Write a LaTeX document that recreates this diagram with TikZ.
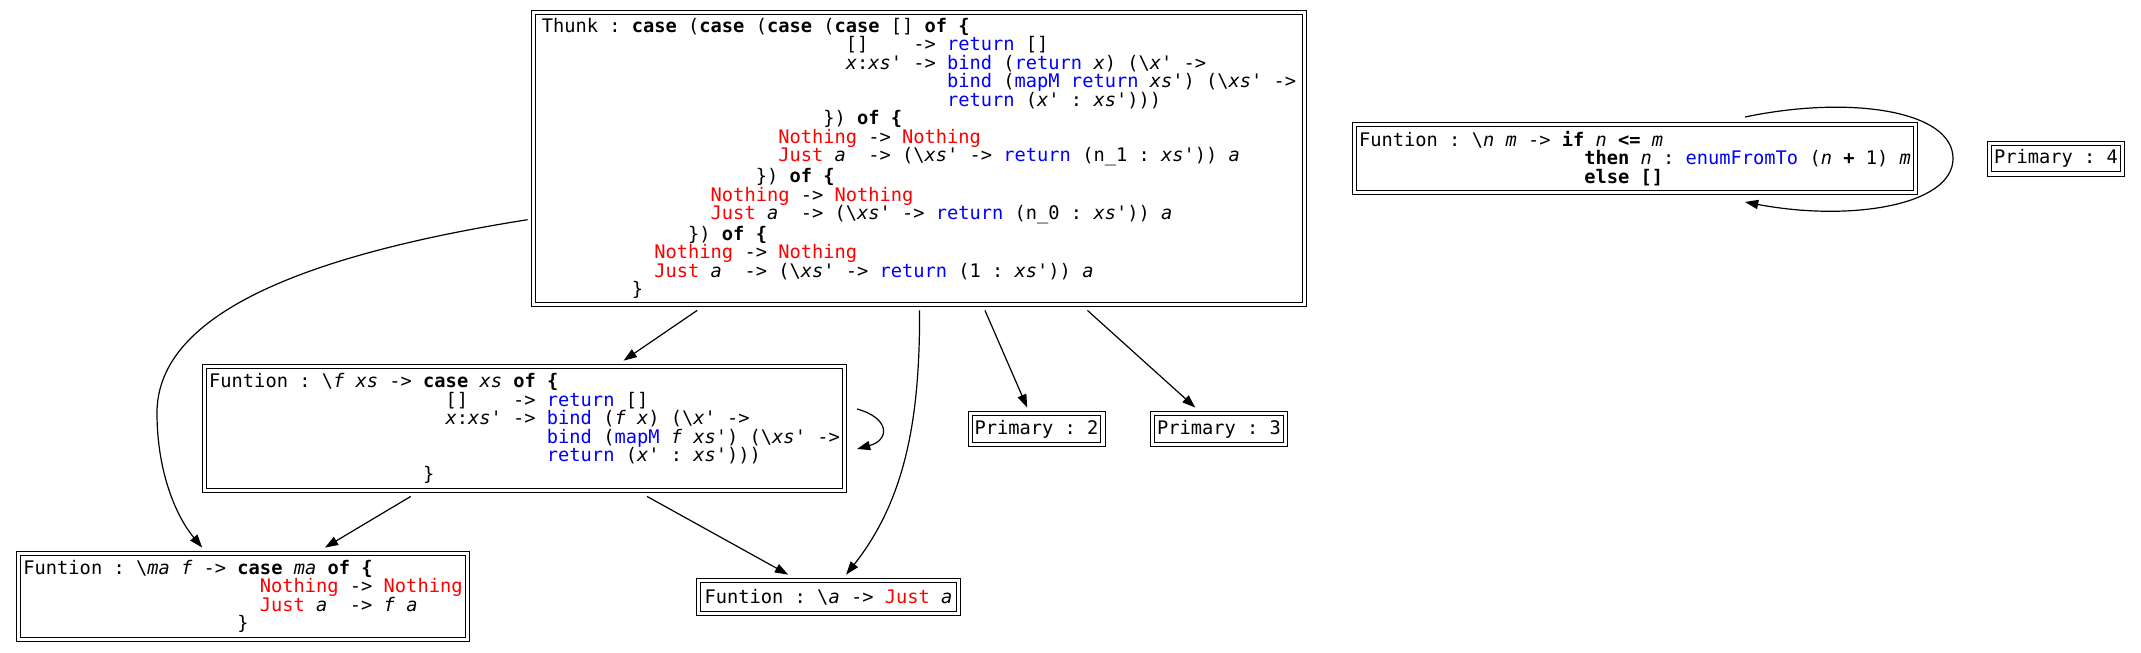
\documentclass[tikz,border=0pt]{standalone}
\usepackage{fontspec}
\usepackage{tikz}
\usetikzlibrary{arrows.meta,calc}
\setmonofont{DejaVu Sans Mono}[WordSpace={1,0,0}]
\definecolor{fnblue}{RGB}{0,0,255}
\definecolor{conred}{RGB}{255,0,0}
\newlength{\gvcolw}
\newcommand{\gvind}[1]{\settowidth{\gvcolw}{0}\hspace*{#1\gvcolw}}
\newcommand{\gvkw}[1]{\textbf{#1}}
\newcommand{\gvfn}[1]{\textcolor{fnblue}{#1}}
\newcommand{\gvcon}[1]{\textcolor{conred}{#1}}
\newcommand{\gvvar}[1]{\textit{#1}}
\newcommand{\gvbs}{\textbackslash}
\newcommand{\gvfont}{\ttfamily\fontsize{9.35}{9.25}\selectfont\frenchspacing}

\begin{document}
\begin{tikzpicture}[x=0.5pt,y=-0.5pt,
  gvbox/.style={draw, double, double distance=1.6pt, line width=0.5pt,
    inner sep=0pt, outer sep=3pt, align=left, font=\gvfont},
  boxsize/.style 2 args={minimum width={(#1-5.2)*0.5pt}, minimum height={(#2-5.2)*0.5pt}},
  gvedge/.style={line width=0.6pt, -{Triangle[length=6.6pt,width=4.6pt]}}]
\useasboundingbox (0,0) rectangle (2141,653);

% サンク
\node[gvbox, boxsize={776}{297}] (thunk) at (919,158.5) {%
Thunk : \gvkw{case} (\gvkw{case} (\gvkw{case} (\gvkw{case} [] \gvkw{of \{}\\
\gvind{27}[]\gvind{4}-> \gvfn{return} []\\
\gvind{27}\gvvar{x}:\gvvar{xs}' -> \gvfn{bind} (\gvfn{return} \gvvar{x}) (\gvbs\gvvar{x}' ->\\
\gvind{36}\gvfn{bind} (\gvfn{mapM} \gvfn{return} \gvvar{xs}') (\gvbs\gvvar{xs}' ->\\
\gvind{36}\gvfn{return} (\gvvar{x}' : \gvvar{xs}')))\\
\gvind{25}\}) \gvkw{of \{}\\
\gvind{21}\gvcon{Nothing} -> \gvcon{Nothing}\\
\gvind{21}\gvcon{Just} \gvvar{a}\gvind{2}-> (\gvbs\gvvar{xs}' -> \gvfn{return} (n\_1 : \gvvar{xs}')) \gvvar{a}\\
\gvind{19}\}) \gvkw{of \{}\\
\gvind{15}\gvcon{Nothing} -> \gvcon{Nothing}\\
\gvind{15}\gvcon{Just} \gvvar{a}\gvind{2}-> (\gvbs\gvvar{xs}' -> \gvfn{return} (n\_0 : \gvvar{xs}')) \gvvar{a}\\
\gvind{13}\}) \gvkw{of \{}\\
\gvind{10}\gvcon{Nothing} -> \gvcon{Nothing}\\
\gvind{10}\gvcon{Just} \gvvar{a}\gvind{2}-> (\gvbs\gvvar{xs}' -> \gvfn{return} (1 : \gvvar{xs}')) \gvvar{a}\\
\gvind{8}\}};

% 関数
\node[gvbox, boxsize={645}{129}] (fxs) at (524.5,428.5) {%
Funtion : \gvbs\gvvar{f} \gvvar{xs} -> \gvkw{case} \gvvar{xs} \gvkw{of \{}\\
\gvind{21}[]\gvind{4}-> \gvfn{return} []\\
\gvind{21}\gvvar{x}:\gvvar{xs}' -> \gvfn{bind} (\gvvar{f} \gvvar{x}) (\gvbs\gvvar{x}' ->\\
\gvind{30}\gvfn{bind} (\gvfn{mapM} \gvvar{f} \gvvar{xs}') (\gvbs\gvvar{xs}' ->\\
\gvind{30}\gvfn{return} (\gvvar{x}' : \gvvar{xs}')))\\
\gvind{19}\}};

\node[gvbox, boxsize={454}{91}] (maf) at (243,596.5) {%
Funtion : \gvbs\gvvar{ma} \gvvar{f} -> \gvkw{case} \gvvar{ma} \gvkw{of \{}\\
\gvind{21}\gvcon{Nothing} -> \gvcon{Nothing}\\
\gvind{21}\gvcon{Just} \gvvar{a}\gvind{2}-> \gvvar{f} \gvvar{a}\\
\gvind{19}\}};

\node[gvbox, boxsize={265}{38}] (justa) at (828.5,597) {%
Funtion : \gvbs\gvvar{a} -> \gvcon{Just} \gvvar{a}};

\node[gvbox, boxsize={566}{73}] (enum) at (1635,158.5) {%
Funtion : \gvbs\gvvar{n} \gvvar{m} -> \gvkw{if} \gvvar{n} \gvkw{<=} \gvvar{m}\\
\gvind{20}\gvkw{then} \gvvar{n} : \gvfn{enumFromTo} (\gvvar{n} \gvkw{+} 1) \gvvar{m}\\
\gvind{20}\gvkw{else []}};

% プリミティブ
\foreach \i/\x/\y in {2/1036.5/429, 3/1219/429, 4/2056/158.5} {
    \node[gvbox, boxsize={138}{36}] (prim\i) at (\x,\y) {Primary : \i};
}

% 辺
\draw[gvedge] (thunk) -- (fxs);
\draw[gvedge] (thunk) .. controls (260,262) and (157,330) .. (157,413)
    .. controls (157,470) and (175,515) .. (maf);
\draw[gvedge] (thunk) .. controls (920,420) and (905,500) .. (justa);
\draw[gvedge] (thunk) -- (prim2);
\draw[gvedge] (thunk) -- (prim3);
\draw[gvedge] (fxs) -- (maf);
\draw[gvedge] (fxs) -- (justa);

% 自己ループ
\draw[gvedge] ($(fxs.east)+(6.6,-19.5)$) .. controls +(33,9) and +(33,-9) .. ($(fxs.east)+(6.6,20.5)$);
\draw[gvedge] ($(enum.north)+(110,-1.6)$) .. controls +(105,-22) and +(0,-48) .. ($(enum.east)+(31.6,0)$)
    .. controls +(0,47) and +(105,20) .. ($(enum.south)+(110,3.6)$);
\end{tikzpicture}
\end{document}
